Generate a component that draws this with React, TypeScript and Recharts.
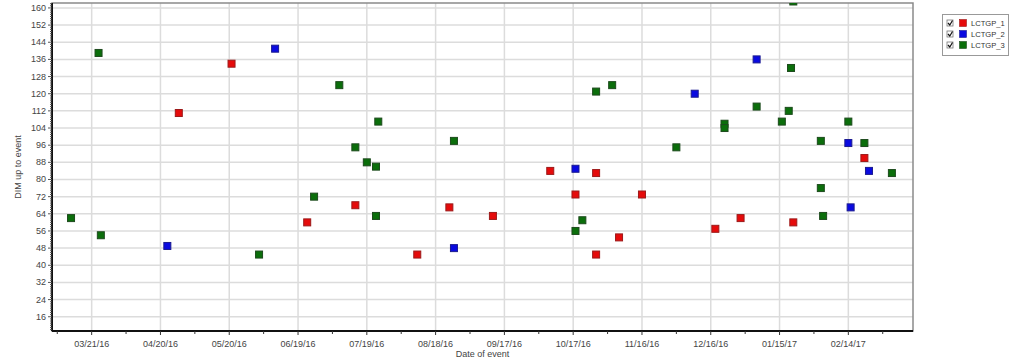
import React from "react";
import {
  ScatterChart,
  Scatter,
  XAxis,
  YAxis,
  CartesianGrid,
  ReferenceArea,
} from "recharts";

const DAY = 24 * 60 * 60 * 1000;
const FONT = '"Liberation Sans", Arial, sans-serif';

// date strings as shown on the axis (MM/DD/YY)
const toMs = (s: string) => {
  const [m, d, y] = s.split("/").map(Number);
  return Date.UTC(2000 + y, m - 1, d);
};
const fmt = (ms: number) => {
  const d = new Date(ms);
  const p = (n: number) => String(n).padStart(2, "0");
  return `${p(d.getUTCMonth() + 1)}/${p(d.getUTCDate())}/${p(d.getUTCFullYear() % 100)}`;
};

const xTickLabels = [
  "03/21/16", "04/20/16", "05/20/16", "06/19/16", "07/19/16", "08/18/16",
  "09/17/16", "10/17/16", "11/16/16", "12/16/16", "01/15/17", "02/14/17",
];
const yTickValues = [16, 24, 32, 40, 48, 56, 64, 72, 80, 88, 96, 104, 112, 120, 128, 136, 144, 152, 160];

const lctgp1Dates = [
  "04/28/16", "05/21/16", "06/23/16", "07/14/16", "08/10/16", "08/24/16", "09/12/16",
  "10/07/16", "10/18/16", "10/27/16", "10/27/16", "11/06/16", "11/16/16", "12/18/16",
  "12/29/16", "01/21/17", "02/21/17",
];
const lctgp1Values = [111, 134, 60, 68, 45, 67, 63, 84, 73, 83, 45, 53, 73, 57, 62, 60, 90];

const lctgp2Dates = [
  "04/23/16", "06/09/16", "08/26/16", "10/18/16", "12/09/16", "01/05/17", "02/14/17",
  "02/15/17", "02/23/17",
];
const lctgp2Values = [49, 141, 48, 85, 120, 136, 97, 67, 84];

const lctgp3Dates = [
  "03/12/16", "03/24/16", "03/25/16", "06/02/16", "06/26/16", "07/07/16", "07/14/16",
  "07/19/16", "07/23/16", "07/23/16", "07/24/16", "08/26/16", "10/18/16", "10/21/16",
  "10/27/16", "11/03/16", "12/01/16", "12/22/16", "12/22/16", "01/05/17", "01/16/17",
  "01/19/17", "01/20/17", "01/21/17", "02/02/17", "02/02/17", "02/03/17", "02/14/17",
  "02/21/17", "03/05/17",
];
const lctgp3Values = [
  62, 139, 54, 45, 72, 124, 95, 88, 86, 63, 107, 98, 56, 61, 121, 124, 95, 106, 104,
  114, 107, 112, 132, 163, 98, 76, 63, 107, 97, 83,
];

const series = [
  { name: "LCTGP_1", dates: lctgp1Dates, values: lctgp1Values, fill: "#e50b0b", stroke: "#9c1a1a" },
  { name: "LCTGP_2", dates: lctgp2Dates, values: lctgp2Values, fill: "#0a0ae0", stroke: "#1a1a90" },
  { name: "LCTGP_3", dates: lctgp3Dates, values: lctgp3Values, fill: "#0b6e0b", stroke: "#1d4a1d" },
];

const majorTicks = xTickLabels.map(toMs);
const majorSet = new Set(majorTicks);
const xMin = majorTicks[0] - 17.3 * DAY;
const xMax = majorTicks[0] + 358.2 * DAY;
// minor ticks every 15 days, majors fall on every other one
const xTicks: number[] = [];
for (let t = majorTicks[0] - 15 * DAY; t <= xMax; t += 15 * DAY) xTicks.push(t);
const yMin = 9.35;
const yMax = 162.3;
const yTicks: number[] = [];
for (let v = 10; v <= 162; v++) yTicks.push(v);

const XTick = (props: any) => {
  const { x, y, payload } = props;
  const major = majorSet.has(payload.value);
  return (
    <g>
      <line x1={x} x2={x} y1={y} y2={y + (major ? 4 : 3)} stroke="#333" />
      {major && (
        <text x={x} y={y + 15.5} textAnchor="middle" fontSize={9} fontFamily={FONT} fill="#444">
          {fmt(payload.value)}
        </text>
      )}
    </g>
  );
};

const YTick = (props: any) => {
  const { x, y, payload } = props;
  const major = payload.value % 8 === 0;
  return (
    <g>
      <line x1={x} x2={x - (major ? 4 : 2)} y1={y} y2={y} stroke="#555" />
      {major && (
        <text x={x - 6} y={y + 3} textAnchor="end" fontSize={9} fontFamily={FONT} fill="#444">
          {payload.value}
        </text>
      )}
    </g>
  );
};

const squareShape = (fill: string, stroke: string) => (props: any) => (
  <rect x={props.cx - 3.5} y={props.cy - 3.5} width={7} height={7} fill={fill} stroke={stroke} strokeWidth={1} />
);

function LegendBox() {
  return (
    <div
      style={{
        position: "absolute",
        left: 942,
        top: 14,
        width: 65,
        height: 40,
        border: "1px solid #999",
        background: "#fff",
      }}
    >
      <svg width={65} height={40} style={{ display: "block" }}>
        {series.map((s, i) => {
          const cy = 8 + i * 11;
          return (
            <g key={s.name}>
              <rect x={4} y={cy - 3} width={6} height={6} fill="#fff" stroke="#777" strokeWidth={0.8} />
              <path d={`M5 ${cy} L6.8 ${cy + 2} L9.5 ${cy - 2.5}`} fill="none" stroke="#111" strokeWidth={1.2} />
              <rect x={16.5} y={cy - 3.5} width={7} height={7} fill={s.fill} stroke={s.stroke} strokeWidth={0.6} />
              <text x={28} y={cy + 3} fontSize={7.6} fontFamily={FONT} fill="#333">
                {s.name}
              </text>
            </g>
          );
        })}
      </svg>
    </div>
  );
}

export default function App() {
  return (
    <div style={{ position: "relative", width: 1024, height: 359, background: "#fff" }}>
      <style>{"body{margin:0}"}</style>
      <ScatterChart width={1024} height={359} margin={{ top: 3, right: 111, bottom: 0, left: 0 }}>
        <CartesianGrid
          stroke="#dcdcdc"
          strokeWidth={1.5}
          horizontalValues={yTickValues}
          verticalValues={majorTicks}
        />
        <XAxis
          dataKey="x"
          type="number"
          domain={[xMin, xMax]}
          allowDataOverflow
          ticks={xTicks}
          interval={0}
          tick={<XTick />}
          tickLine={false}
          tickSize={0}
          tickMargin={0}
          height={28}
          axisLine={{ stroke: "#111", strokeWidth: 2 }}
          label={{ value: "Date of event", position: "insideBottom", offset: 2, fontSize: 9, fontFamily: FONT, fill: "#444" }}
        />
        <YAxis
          dataKey="y"
          type="number"
          domain={[yMin, yMax]}
          allowDataOverflow
          ticks={yTicks}
          interval={0}
          tick={<YTick />}
          tickLine={false}
          tickSize={0}
          tickMargin={0}
          width={52}
          axisLine={{ stroke: "#111", strokeWidth: 2 }}
          label={{
            content: (p: any) => {
              const vb = p.viewBox;
              const cx = vb.x + 18;
              const cy = vb.y + vb.height / 2;
              return (
                <text x={cx} y={cy} transform={`rotate(-90 ${cx} ${cy})`} textAnchor="middle" dominantBaseline="central" fontSize={9} fontFamily={FONT} fill="#444">
                  DIM up to event
                </text>
              );
            },
          }}
        />
        <ReferenceArea x1={xMin} x2={xMax} y1={yMin} y2={yMax} fill="none" stroke="#8a8a8a" strokeWidth={1.5} />
        {series.map((s) => (
          <Scatter
            key={s.name}
            name={s.name}
            data={s.dates.map((d, i) => ({ x: toMs(d), y: s.values[i] }))}
            fill={s.fill}
            shape={squareShape(s.fill, s.stroke)}
            isAnimationActive={false}
          />
        ))}
      </ScatterChart>
      <LegendBox />
    </div>
  );
}
